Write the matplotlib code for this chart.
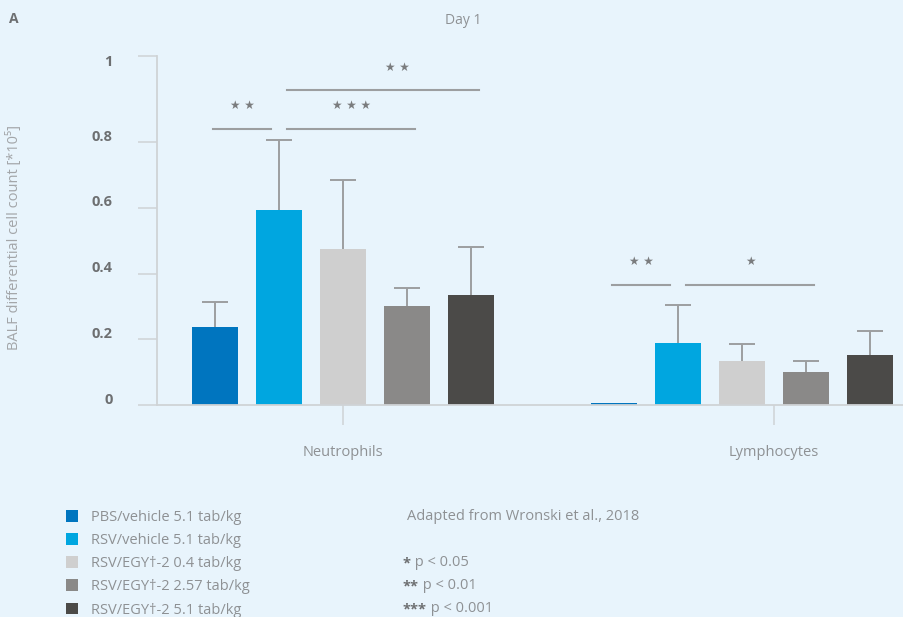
import numpy as np
import matplotlib
matplotlib.use("Agg")
import matplotlib.pyplot as plt
from matplotlib.patches import Patch
from matplotlib.transforms import ScaledTranslation

plt.rcParams['font.family'] = ['Open Sans', 'DejaVu Sans']

# ---- data ----
cells = ['Neutrophils', 'Lymphocytes']
groups = ['PBS/vehicle 5.1 tab/kg', 'RSV/vehicle 5.1 tab/kg',
          'RSV/EGY\u2020-2 0.4 tab/kg', 'RSV/EGY\u2020-2 2.57 tab/kg',
          'RSV/EGY\u2020-2 5.1 tab/kg']
neutro_mean = [0.237, 0.593, 0.475, 0.301, 0.335]
neutro_err = [0.077, 0.211, 0.208, 0.054, 0.145]
lympho_mean = [0.005, 0.189, 0.134, 0.100, 0.152]
lympho_err = [0.0, 0.115, 0.052, 0.035, 0.074]
yticks = [0, 0.2, 0.4, 0.6, 0.8, 1]
ytick_labels = ['0', '0.2', '0.4', '0.6', '0.8', '1']
# (cell index, bar from, bar to, height, number of stars)
brackets = [(0, 0, 1, 0.831, 2), (0, 1, 3, 0.831, 3), (0, 1, 4, 0.921, 2),
            (1, 0, 1, 0.366, 2), (1, 1, 3, 0.366, 1)]
pvals = ['p < 0.05', 'p < 0.01', 'p < 0.001']

colors = ['#0075bf', '#00a6e0', '#cfcfcf', '#8a8988', '#4b4a48']
bg = '#e8f4fc'
axis_grey = '#cfd3d6'
err_grey = '#9c9ea0'
text_grey = '#8e9194'

# y axis is stretched above 0.8 in the original figure
def fwd(v):
    v = np.asarray(v, dtype=float)
    return np.where(v <= 0.8, v, 0.8 + (v - 0.8) * 430 / 328.75)

def inv(v):
    v = np.asarray(v, dtype=float)
    return np.where(v <= 0.8, v, 0.8 + (v - 0.8) * 328.75 / 430)

fig = plt.figure(figsize=(9.04, 6.17), dpi=100, facecolor=bg)
ax = fig.add_axes([157 / 904, 1 - 405 / 617, 1 - 157 / 904, (405 - 56) / 617])
ax.set_facecolor(bg)
ax.set_yscale('function', functions=(fwd, inv))
ax.set_ylim(0, 1)
ax.set_xlim(-0.4316, 1.3016)

spacing = 64 / 431
width = 46 / 431
cap = 13 / 431
group_centers = [0.0, 0.926]   # lymphocyte bars sit left of their tick
tick_pos = [0.0, 1.0]

def bar_x(g, i):
    return group_centers[g] + (i - 2) * spacing

for g, (means, errs) in enumerate([(neutro_mean, neutro_err),
                                   (lympho_mean, lympho_err)]):
    xs = np.array([bar_x(g, i) for i in range(len(means))])
    tops = np.array(means) + np.array(errs)
    ax.bar(xs, means, width=width, color=colors, zorder=2)
    has_err = np.array(errs) > 0
    ax.vlines(xs[has_err], np.array(means)[has_err], tops[has_err],
              color=err_grey, lw=1.4, zorder=1)
    ax.hlines(tops[has_err], xs[has_err] - cap, xs[has_err] + cap,
              color=err_grey, lw=1.4, zorder=1)

# significance brackets
gap = 8 / 431
for g, i, j, h, n in brackets:
    if i == 0:
        x0, x1 = bar_x(g, i) - 0.004, bar_x(g, j) - gap
    else:
        x0, x1 = bar_x(g, i) + gap, bar_x(g, j) + gap
    ax.plot([x0, x1], [h, h], color=err_grey, lw=1.5, clip_on=False)
    xm = (x0 + x1) / 2
    if g == 0 and j == 4:
        xm += 14 / 431
    ax.annotate(' '.join(['\u2605'] * n), (xm, h), xytext=(0, 16.5),
                textcoords='offset points', ha='center', va='center',
                fontsize=8.5, color='#7a7c7e', family='DejaVu Sans')

# axes styling
for s in ['top', 'right']:
    ax.spines[s].set_visible(False)
for s in ['left', 'bottom']:
    ax.spines[s].set_color(axis_grey)
    ax.spines[s].set_linewidth(1.3)

ax.set_yticks(yticks)
ax.set_yticklabels(ytick_labels, fontsize=10.5, fontweight='bold',
                   color='#6d6f71')
ax.tick_params(axis='y', length=14, width=1.1, color=axis_grey, pad=18)
ax.yaxis.set_minor_locator(matplotlib.ticker.NullLocator())
for lab, dy in zip(ax.get_yticklabels(), [5, 5, 5, 5, 5, -3]):
    lab.set_transform(lab.get_transform() +
                      ScaledTranslation(0, dy / 72, fig.dpi_scale_trans))

ax.set_xticks(tick_pos)
ax.set_xticklabels(cells, fontsize=10.5, color=text_grey)
ax.tick_params(axis='x', length=14.5, width=1.1, color=axis_grey, pad=14.5)

ax.set_ylabel('BALF differential cell count [*10\u2075]', fontsize=10.5,
              color='#a3a6a9')
ax.yaxis.set_label_coords(-135 / 747, 0.48)

fig.text(463 / 904, 1 - 20 / 617, 'Day 1', ha='center', va='center',
         fontsize=10, color=text_grey)
fig.text(9 / 904, 1 - 19 / 617, 'A', ha='left', va='center',
         fontsize=10, fontweight='bold', color='#6d6f71')

# legend
handles = [Patch(facecolor=c, edgecolor='none') for c in colors]
leg = fig.legend(handles, groups, loc='upper left',
                 bbox_to_anchor=(60 / 904, 1 - 504 / 617), frameon=False,
                 fontsize=10.5, handlelength=0.85, handleheight=0.85,
                 handletextpad=0.9, labelspacing=0.56, borderaxespad=0)
for t in leg.get_texts():
    t.set_color(text_grey)

fig.text(407 / 904, 1 - 517 / 617, 'Adapted from Wronski et al., 2018',
         ha='left', va='center', fontsize=10.5, color=text_grey)
for k, p in enumerate(pvals):
    y = 1 - (563 + 23 * k) / 617
    st = fig.text(403 / 904, y, '*' * (k + 1), ha='left', va='center',
                  fontsize=10.5, fontweight='bold', color='#6d6f71')
    ax.annotate(' ' + p, xy=(1, 0), xycoords=st, ha='left', va='bottom',
                fontsize=10.5, color=text_grey, annotation_clip=False)

fig.savefig('out.png', dpi=100, facecolor=bg)
